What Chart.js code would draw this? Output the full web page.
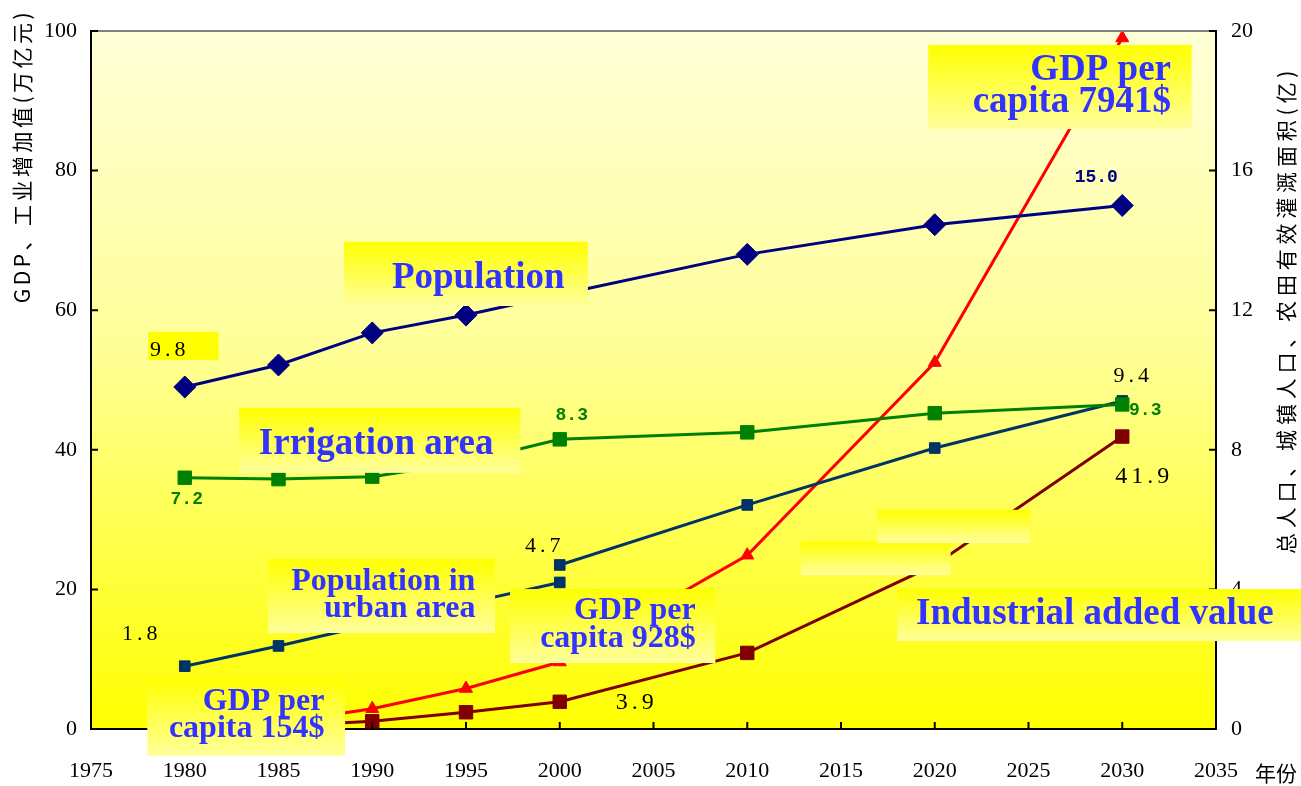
<!DOCTYPE html>
<html>
<head>
<meta charset="utf-8">
<script src="https://cdn.jsdelivr.net/npm/chart.js@4.4.1/dist/chart.umd.min.js"></script>
<style>
  html, body { margin: 0; padding: 0; background: #fff; }
  #wrap { width: 1301px; height: 786px; }
</style>
</head>
<body>
<div id="wrap"><canvas id="chart" width="1301" height="786"></canvas></div>
<script>
// years shared by most series
const years = [1980, 1985, 1990, 1995, 2000, 2010, 2020, 2030];

// right axis (亿)
const population = [9.8, 10.43, 11.35, 11.86, 12.45, 13.6, 14.45, 15.0];
const irrigation = [7.2, 7.16, 7.23, 7.65, 8.3, 8.5, 9.05, 9.3];
const urbanHistYears = [1980, 1985, 1990, 1995, 2000];
const urbanHist = [1.8, 2.38, 3.0, 3.6, 4.2];
const urbanProjYears = [2000, 2010, 2020, 2030];
const urbanProj = [4.7, 6.42, 8.05, 9.4];

// left axis (万亿元)
const gdp = [0.45, 0.9, 2.9, 5.8, 9.6, 24.9, 52.5, 99.0];
const industry = [0.2, 0.4, 1.1, 2.4, 3.9, 10.9, 23.5, 41.9];

const xTicks = { min: 1975, max: 2035, step: 5 };
const leftTicks = { min: 0, max: 100, step: 20 };
const rightTicks = { min: 0, max: 20, step: 4 };

const leftTitle = 'GDP、工业增加值(万亿元)';
const rightTitle = '总人口、城镇人口、农田有效灌溉面积(亿)';
const xTitle = '年份';

const BLUE_TEXT = '#3333ff';

const makeLine = (label, xs, ys, color, style, radius, axis, width) => ({
  label,
  data: xs.map((x, i) => ({ x, y: ys[i] })),
  yAxisID: axis,
  borderColor: color,
  backgroundColor: color,
  pointBackgroundColor: color,
  pointBorderColor: color,
  pointStyle: style,
  pointRadius: radius,
  pointBorderWidth: 1,
  borderWidth: width,
  tension: 0,
  fill: false,
});

// labels hanging off data points (offsets in px)
const pointLabels = [
  { ds: 0, i: 0, dx: -15, dy: -37, color: '#000', font: "22px 'Liberation Serif'" },
  { ds: 0, i: 7, dx: -26, dy: -28, color: '#000080', font: "bold 18px 'Liberation Mono'" },
  { ds: 1, i: 0, dx: 2, dy: 22, color: '#008000', font: "bold 18px 'Liberation Mono'" },
  { ds: 1, i: 4, dx: 12, dy: -24, color: '#008000', font: "bold 18px 'Liberation Mono'" },
  { ds: 1, i: 7, dx: 23, dy: 6, color: '#008000', font: "bold 18px 'Liberation Mono'" },
  { ds: 3, i: 0, dx: -43, dy: -32, color: '#000', font: "22px 'Liberation Serif'" },
  { ds: 2, i: 0, dx: -15, dy: -19, color: '#000', font: "22px 'Liberation Serif'" },
  { ds: 3, i: 4, dx: 25, dy: 15, color: '#000', font: "22px 'Liberation Serif'", under: true },
  { ds: 2, i: 3, dx: 11, dy: -25, color: '#000', font: "22px 'Liberation Serif'" },
  { ds: 5, i: 7, dx: 22, dy: 40, color: '#000', font: "24px 'Liberation Serif'" },
  { ds: 5, i: 4, dx: 77, dy: 1, color: '#000', font: "24px 'Liberation Serif'" },
];

// callout boxes in data units (x: year, y: left axis)
const boxes = [
  { x0: 1988.5, x1: 2001.5, y0: 69.8, y1: 60.6 },
  { x0: 1982.9, x1: 1997.9, y0: 46.0, y1: 36.7 },
  { x0: 1984.45, x1: 1996.55, y0: 24.35, y1: 13.75 },
  { x0: 1978.0, x1: 1988.55, y0: 7.15, y1: -3.85 },
  { x0: 1997.35, x1: 2008.3, y0: 20.05, y1: 9.45 },
  { x0: 2019.65, x1: 2033.7, y0: 98.0, y1: 85.95 },
  { x0: 2012.85, x1: 2020.85, y0: 26.9, y1: 22.05 },
  { x0: 2016.95, x1: 2025.1, y0: 31.4, y1: 26.65 },
  { x0: 2018.0, x1: 2039.6, y0: 20.05, y1: 12.6 },
  { x0: 1978.05, x1: 1981.8, y0: 56.9, y1: 52.85, solid: true },
];

const boxTexts = [
  { lines: ['Population'], x: 1991.05, y: 63.2, size: 37, align: 'left' },
  { lines: ['Irrigation area'], x: 1983.95, y: 39.4, size: 37, align: 'left' },
  { lines: ['Population in', 'urban area'], x: 1995.5, y: 19.9, size: 32, gap: 27, align: 'right' },
  { lines: ['GDP per', 'capita 154$'], x: 1987.45, y: 2.7, size: 32, gap: 27, align: 'right' },
  { lines: ['GDP per', 'capita 928$'], x: 2007.25, y: 15.7, size: 32, gap: 28, align: 'right' },
  { lines: ['GDP per', 'capita 7941$'], x: 2032.6, y: 93.0, size: 37, gap: 32, align: 'right' },
  { lines: ['Industrial added value'], x: 2019.0, y: 15.0, size: 37, align: 'left' },
];

const decor = {
  id: 'decor',
  beforeDraw(chart) {
    const { ctx, chartArea: a } = chart;
    const g = ctx.createLinearGradient(0, a.top, 0, a.bottom);
    g.addColorStop(0, '#ffffd8');
    g.addColorStop(0.45, '#ffff99');
    g.addColorStop(1, '#ffff00');
    ctx.save();
    ctx.fillStyle = g;
    ctx.fillRect(a.left, a.top, a.right - a.left, a.bottom - a.top);
    ctx.restore();
  },
  afterDraw(chart) {
    const { ctx, chartArea: a, scales } = chart;
    const sx = scales.x, sy = scales.y, sy1 = scales.y1;
    ctx.save();

    // top frame line
    ctx.strokeStyle = '#808080';
    ctx.lineWidth = 2;
    ctx.beginPath();
    ctx.moveTo(a.left, a.top);
    ctx.lineTo(a.right, a.top);
    ctx.stroke();

    // inward tick marks
    ctx.strokeStyle = '#000';
    ctx.lineWidth = 2;
    ctx.beginPath();
    sx.ticks.forEach(t => {
      const p = sx.getPixelForValue(t.value);
      ctx.moveTo(p, a.bottom); ctx.lineTo(p, a.bottom - 7);
    });
    sy.ticks.forEach(t => {
      const p = sy.getPixelForValue(t.value);
      ctx.moveTo(a.left, p); ctx.lineTo(a.left + 7, p);
    });
    sy1.ticks.forEach(t => {
      const p = sy1.getPixelForValue(t.value);
      ctx.moveTo(a.right, p); ctx.lineTo(a.right - 7, p);
    });
    ctx.stroke();

    // axis titles
    ctx.fillStyle = '#000';
    ctx.textAlign = 'center';
    ctx.textBaseline = 'middle';
    ctx.font = "21px 'Noto Sans CJK SC'";
    ctx.letterSpacing = '3.5px';
    ctx.save();
    ctx.translate(22, 156);
    ctx.rotate(-Math.PI / 2);
    ctx.fillText(leftTitle, 0, 0);
    ctx.restore();
    ctx.font = "21px 'Noto Sans CJK SC'";
    ctx.letterSpacing = '4.8px';
    ctx.save();
    ctx.translate(1286, 310);
    ctx.rotate(-Math.PI / 2);
    ctx.fillText(rightTitle, 0, 0);
    ctx.restore();
    ctx.letterSpacing = '0px';
    ctx.font = "21px 'Noto Sans CJK SC'";
    ctx.fillText(xTitle, 1276, 773);

    const drawPointLabel = (l) => {
      const pt = chart.getDatasetMeta(l.ds).data[l.i];
      const v = chart.data.datasets[l.ds].data[l.i].y;
      ctx.font = l.font;
      ctx.fillStyle = l.color;
      ctx.letterSpacing = l.font.includes('Serif') ? '4px' : '0px';
      ctx.textAlign = 'center';
      ctx.textBaseline = 'middle';
      ctx.fillText(v.toFixed(1), pt.x + l.dx, pt.y + l.dy);
    };
    pointLabels.filter(l => l.under).forEach(drawPointLabel);

    // callout boxes
    boxes.forEach(b => {
      const x0 = sx.getPixelForValue(b.x0), x1 = sx.getPixelForValue(b.x1);
      const y0 = sy.getPixelForValue(b.y0), y1 = sy.getPixelForValue(b.y1);
      if (b.solid) {
        ctx.fillStyle = '#ffff00';
      } else {
        const g = ctx.createLinearGradient(0, y0, 0, y1);
        g.addColorStop(0, '#ffff00');
        g.addColorStop(1, '#ffff9c');
        ctx.fillStyle = g;
      }
      ctx.fillRect(x0, y0, x1 - x0, y1 - y0);
    });

    ctx.letterSpacing = '0px';
    ctx.fillStyle = BLUE_TEXT;
    ctx.textBaseline = 'alphabetic';
    boxTexts.forEach(t => {
      ctx.font = `bold ${t.size}px 'Liberation Serif'`;
      ctx.textAlign = t.align;
      const x = sx.getPixelForValue(t.x);
      const y = sy.getPixelForValue(t.y);
      t.lines.forEach((line, k) => ctx.fillText(line, x, y + k * (t.gap || 0)));
    });

    pointLabels.filter(l => !l.under).forEach(drawPointLabel);
    ctx.restore();
  },
};

const axisBase = {
  grid: { display: true, drawOnChartArea: false, drawTicks: false },
  border: { display: true, color: '#000', width: 2 },
};

new Chart(document.getElementById('chart'), {
  type: 'line',
  data: {
    datasets: [
      makeLine('Population', years, population, '#000080', 'rectRot', 11, 'y1', 3),
      makeLine('Irrigation area', years, irrigation, '#008000', 'rect', 9.5, 'y1', 3),
      makeLine('Urban population (proj.)', urbanProjYears, urbanProj, '#003366', 'rect', 7.5, 'y1', 3),
      makeLine('Urban population', urbanHistYears, urbanHist, '#003366', 'rect', 7.5, 'y1', 3),
      makeLine('GDP', years, gdp, '#ff0000', 'triangle', 7.5, 'y', 3),
      makeLine('Industrial added value', years, industry, '#800000', 'rect', 9.5, 'y', 3),
    ],
  },
  options: {
    responsive: false,
    animation: false,
    layout: { padding: { top: 31, left: 0, right: 0, bottom: 0 } },
    plugins: { legend: { display: false }, tooltip: { enabled: false } },
    scales: {
      x: {
        ...axisBase,
        type: 'linear',
        min: xTicks.min,
        max: xTicks.max,
        afterFit: s => { s.height = 57; },
        ticks: {
          stepSize: xTicks.step,
          padding: 29,
          color: '#000',
          font: { family: 'Liberation Serif', size: 22 },
          callback: v => String(v),
        },
      },
      y: {
        ...axisBase,
        position: 'left',
        min: leftTicks.min,
        max: leftTicks.max,
        afterFit: s => { s.width = 91; },
        ticks: {
          stepSize: leftTicks.step,
          padding: 14,
          color: '#000',
          font: { family: 'Liberation Serif', size: 22 },
        },
      },
      y1: {
        ...axisBase,
        position: 'right',
        min: rightTicks.min,
        max: rightTicks.max,
        afterFit: s => { s.width = 85; },
        ticks: {
          stepSize: rightTicks.step,
          padding: 15,
          color: '#000',
          font: { family: 'Liberation Serif', size: 22 },
        },
      },
    },
  },
  plugins: [decor],
});
</script>
</body>
</html>
